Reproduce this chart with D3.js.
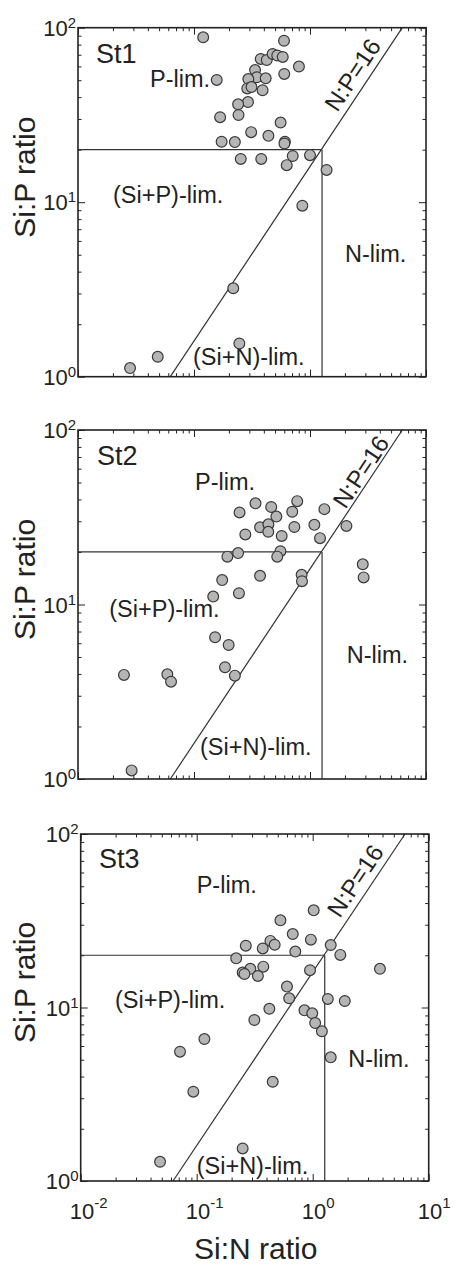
<!DOCTYPE html>
<html>
<head>
<meta charset="utf-8">
<script src="https://cdn.jsdelivr.net/npm/d3@7"></script>
<style>
  html, body { margin: 0; padding: 0; background: #fff; }
  svg { display: block; }
  text { font-family: "Liberation Sans", Arial, Helvetica, sans-serif; fill: #222; }
</style>
</head>
<body>
<svg id="chart" width="455" height="1265"></svg>
<script>
// Station names
const stations = ["St1", "St2", "St3"];

// Si:N and Si:P molar ratios, one pair of arrays per station
const st1SiN = [0.120, 0.597, 0.157, 0.376, 0.424, 0.476, 0.522, 0.582, 0.803, 0.600,
                0.336, 0.348, 0.294, 0.415, 0.288, 0.313, 0.390, 0.292, 0.240, 0.242,
                0.168, 0.558, 0.311, 0.438, 0.173, 0.225, 0.608, 0.602, 0.253, 0.380,
                0.710, 0.630, 1.00, 1.39, 0.859, 0.218, 0.246, 0.0487, 0.0281];
const st1SiP = [88.1, 84.2, 50.2, 66.2, 65.3, 70.7, 69.3, 68.0, 59.9, 54.3,
                57.2, 52.0, 50.8, 51.3, 44.9, 45.7, 43.8, 37.5, 36.4, 31.6,
                30.7, 28.6, 25.2, 24.0, 22.2, 22.1, 22.2, 21.7, 17.7, 17.7,
                18.4, 16.3, 18.6, 15.3, 9.55, 3.21, 1.55, 1.30, 1.12];

const st2SiN = [0.339, 0.463, 0.776, 0.247, 0.703, 1.33, 0.513, 0.371, 0.438, 0.437,
                0.733, 1.09, 2.06, 0.277, 0.570, 1.22, 0.240, 0.194, 0.556, 0.522,
                0.175, 0.371, 0.847, 0.853, 2.85, 2.90, 0.1465, 0.244, 0.152, 0.199,
                0.185, 0.225, 0.0249, 0.0589, 0.0634, 0.0290];
const st2SiP = [38.0, 36.2, 39.1, 33.7, 34.0, 35.2, 31.9, 27.7, 28.8, 26.1,
                27.8, 28.6, 28.2, 25.2, 24.7, 24.0, 19.7, 18.8, 20.2, 18.8,
                13.8, 14.6, 14.8, 13.6, 17.0, 14.3, 11.1, 11.6, 6.49, 5.86,
                4.37, 3.91, 3.95, 3.98, 3.61, 1.12];

const st3SiN = [1.02, 0.527, 0.673, 0.432, 0.470, 0.964, 0.265, 0.371, 1.43, 0.708,
                1.73, 0.219, 0.290, 0.375, 0.249, 0.258, 0.337, 0.948, 3.80, 0.600,
                0.627, 1.35, 1.89, 0.423, 0.849, 0.991, 1.05, 1.20, 0.314, 0.1165,
                0.0718, 1.43, 0.452, 0.0935, 0.249, 0.0483];
const st3SiP = [36.3, 31.8, 26.5, 24.2, 23.0, 24.6, 22.7, 21.9, 22.9, 21.0,
                20.1, 19.2, 16.7, 17.2, 15.9, 15.6, 15.2, 16.4, 16.7, 13.2,
                11.3, 11.2, 10.9, 9.83, 9.63, 9.26, 8.14, 7.29, 8.47, 6.58,
                5.56, 5.16, 3.73, 3.27, 1.54, 1.29];

// Axis ranges and tick exponents (log10)
const xDomain = [0.01, 10];
const yDomain = [1, 100];
const xTickExps = [-2, -1, 0, 1];
const yTickExps = [0, 1, 2];

// Stoichiometric limits
const redfieldNP = 16;   // N:P line
const siPLimit = 20;     // Si:P threshold
const siNLimit = 1.27;   // Si:N threshold

const regionNames = ["P-lim.", "(Si+P)-lim.", "N-lim.", "(Si+N)-lim."];
const xTitle = "Si:N ratio";
const yTitle = "Si:P ratio";
const npLabel = "N:P=16";

const seriesSiN = [st1SiN, st2SiN, st3SiN];
const seriesSiP = [st1SiP, st2SiP, st3SiP];

// Panel layout (pixels)
const layout = [
  { left: 78,   top: 27.7, width: 348, height: 349,
    namePos: [18, 35.3],
    regionPos: [[72, 59.3], [35, 175], [267, 234], [115, 337.3]],
    npAt: 48, npOff: 7, xLabels: false },
  { left: 78,   top: 430,  width: 348, height: 349,
    namePos: [19, 35],
    regionPos: [[117, 60], [31.3, 186.7], [268.7, 233.3], [122, 325]],
    npAt: 53, npOff: 3, xLabels: false },
  { left: 80.7, top: 834,  width: 348, height: 347,
    namePos: [18.3, 34.3],
    regionPos: [[116, 58.7], [34.3, 174.3], [267.6, 232.7], [116, 340]],
    npAt: 48, npOff: 7, xLabels: true }
];

const svg = d3.select("#chart");
svg.append("rect").attr("width", 455).attr("height", 1265).attr("fill", "#fff");

const ink = "#222";

function minorTicks(exps) {
  const out = [];
  for (let i = 0; i < exps.length - 1; i++) {
    for (let k = 2; k <= 9; k++) out.push(k * Math.pow(10, exps[i]));
  }
  return out;
}

function styleAxis(sel) {
  sel.select(".domain").remove();
  sel.selectAll(".tick line").attr("stroke", ink).attr("stroke-width", 1);
  sel.selectAll(".tick text").remove();
}

layout.forEach((p, i) => {
  const g = svg.append("g").attr("transform", `translate(${p.left},${p.top})`);
  const x = d3.scaleLog().domain(xDomain).range([0, p.width]);
  const y = d3.scaleLog().domain(yDomain).range([p.height, 0]);

  const xMajor = xTickExps.map(e => Math.pow(10, e));
  const yMajor = yTickExps.map(e => Math.pow(10, e));
  const xMinor = minorTicks(xTickExps);
  const yMinor = minorTicks(yTickExps);
  const majorLen = 7, minorLen = 3.5;

  // inward ticks on all four sides
  [[xMinor, minorLen], [xMajor, majorLen]].forEach(([vals, len]) => {
    g.append("g").attr("transform", `translate(0,${p.height})`)
      .call(d3.axisBottom(x).tickValues(vals).tickSize(-len).tickFormat(""))
      .call(styleAxis);
    g.append("g")
      .call(d3.axisTop(x).tickValues(vals).tickSize(-len).tickFormat(""))
      .call(styleAxis);
  });
  [[yMinor, minorLen], [yMajor, majorLen]].forEach(([vals, len]) => {
    g.append("g")
      .call(d3.axisLeft(y).tickValues(vals).tickSize(-len).tickFormat(""))
      .call(styleAxis);
    g.append("g").attr("transform", `translate(${p.width},0)`)
      .call(d3.axisRight(y).tickValues(vals).tickSize(-len).tickFormat(""))
      .call(styleAxis);
  });

  // threshold lines
  const line = d3.line().x(d => x(d[0])).y(d => y(d[1]));
  g.append("path")
    .attr("d", line([[xDomain[0], siPLimit], [siNLimit, siPLimit]]))
    .attr("fill", "none").attr("stroke", "#333").attr("stroke-width", 1.2);
  g.append("path")
    .attr("d", line([[siNLimit, yDomain[0]], [siNLimit, siPLimit]]))
    .attr("fill", "none").attr("stroke", "#333").attr("stroke-width", 1.2);
  const npStart = [yDomain[0] / redfieldNP, yDomain[0]];
  const npEnd = [yDomain[1] / redfieldNP, yDomain[1]];
  g.append("path")
    .attr("d", line([npStart, npEnd]))
    .attr("fill", "none").attr("stroke", "#333").attr("stroke-width", 1.2);

  // N:P label along the line
  const ang = Math.atan2(y(npEnd[1]) - y(npStart[1]), x(npEnd[0]) - x(npStart[0])) * 180 / Math.PI;
  g.append("text")
    .attr("transform", `translate(${x(p.npAt / redfieldNP)},${y(p.npAt)}) rotate(${ang})`)
    .attr("text-anchor", "middle")
    .attr("dy", -p.npOff)
    .attr("font-size", 24)
    .text(npLabel);

  // region labels
  regionNames.forEach((name, k) => {
    g.append("text")
      .attr("x", p.regionPos[k][0]).attr("y", p.regionPos[k][1])
      .attr("font-size", 23.5)
      .text(name);
  });

  // station name
  g.append("text")
    .attr("x", p.namePos[0]).attr("y", p.namePos[1])
    .attr("font-size", 27)
    .text(stations[i]);

  // data points
  const pts = seriesSiN[i].map((v, j) => [v, seriesSiP[i][j]]);
  g.append("g").selectAll("circle").data(pts).join("circle")
    .attr("cx", d => x(d[0])).attr("cy", d => y(d[1]))
    .attr("r", 5.4)
    .attr("fill", "#b5b5b5")
    .attr("stroke", "#3a3a3a")
    .attr("stroke-width", 1.2);

  // frame
  g.append("rect")
    .attr("width", p.width).attr("height", p.height)
    .attr("fill", "none").attr("stroke", ink).attr("stroke-width", 1.6);

  // y tick labels (powers of ten)
  yTickExps.forEach(e => {
    const t = g.append("text")
      .attr("x", -2).attr("y", y(Math.pow(10, e)) + 8)
      .attr("text-anchor", "end");
    t.append("tspan").attr("font-size", 22).text("10");
    t.append("tspan").attr("font-size", 15).attr("dy", -8).text(String(e));
  });

  // y title
  g.append("text")
    .attr("transform", `translate(${35 - p.left},${p.height / 2 - 25}) rotate(-90)`)
    .attr("text-anchor", "middle")
    .attr("font-size", 30)
    .text(yTitle);

  if (p.xLabels) {
    xTickExps.forEach(e => {
      const t = g.append("text")
        .attr("x", x(Math.pow(10, e)) - 11).attr("y", p.height + 38);
      t.append("tspan").attr("font-size", 22).text("10");
      t.append("tspan").attr("font-size", 15).attr("dy", -11).text(String(e));
    });
    g.append("text")
      .attr("x", p.width / 2 + 1).attr("y", p.height + 78)
      .attr("text-anchor", "middle")
      .attr("font-size", 30)
      .text(xTitle);
  }
});
</script>
</body>
</html>
